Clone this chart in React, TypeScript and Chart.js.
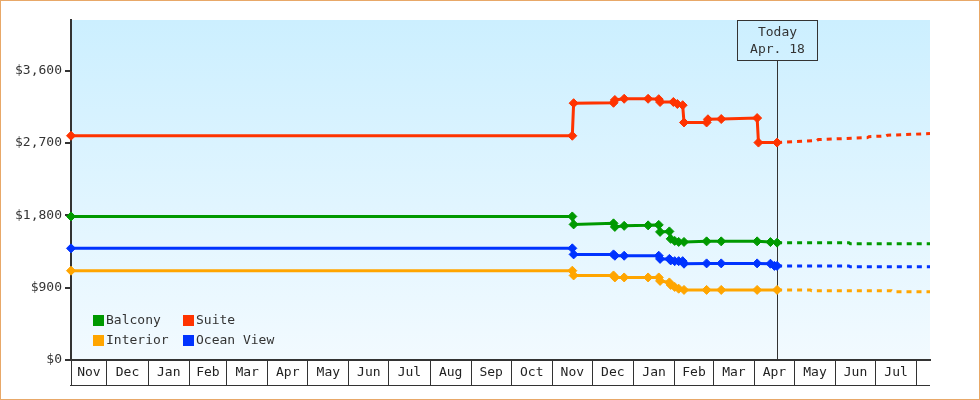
import React, { useEffect, useRef } from "react";
import { Chart, registerables } from "chart.js";

Chart.register(...registerables);

const FONT = '"DejaVu Sans Mono", monospace';
const EPOCH = Date.UTC(2014, 10, 1);
const dayOf = (s: string) => {
  const [y, m, d] = s.split("-").map(Number);
  return (Date.UTC(y, m - 1, d) - EPOCH) / 86400000;
};

// ---- data ----
const monthTickLabels = ["Nov", "Dec", "Jan", "Feb", "Mar", "Apr", "May", "Jun", "Jul", "Aug", "Sep", "Oct", "Nov", "Dec", "Jan", "Feb", "Mar", "Apr", "May", "Jun", "Jul"];
const yTickValues = [0, 900, 1800, 2700, 3600];
const xStartDate = "2014-11-04";
const xEndDate = "2016-08-11";
const todayDate = "2016-04-18";
const todayLabel = ["Today", "Apr. 18"];

const suiteDates = ["2014-11-04", "2015-11-16", "2015-11-17", "2015-12-17", "2015-12-18", "2015-12-25", "2016-01-12", "2016-01-20", "2016-01-21", "2016-01-31", "2016-02-03", "2016-02-07", "2016-02-08", "2016-02-25", "2016-02-26", "2016-03-07", "2016-04-03", "2016-04-04", "2016-04-18"];
const suitePrices = [2790, 2790, 3195, 3200, 3235, 3250, 3250, 3245, 3210, 3210, 3185, 3170, 2955, 2955, 2995, 2998, 3010, 2705, 2705];

const balconyDates = ["2014-11-04", "2015-11-16", "2015-11-17", "2015-12-17", "2015-12-18", "2015-12-25", "2016-01-12", "2016-01-20", "2016-01-21", "2016-01-28", "2016-01-29", "2016-02-01", "2016-02-04", "2016-02-08", "2016-02-25", "2016-03-07", "2016-04-03", "2016-04-13", "2016-04-18"];
const balconyPrices = [1786, 1786, 1687, 1700, 1656, 1669, 1675, 1681, 1594, 1600, 1507, 1482, 1469, 1469, 1476, 1476, 1476, 1467, 1460];

const oceanDates = ["2014-11-04", "2015-11-16", "2015-11-17", "2015-12-17", "2015-12-18", "2015-12-25", "2016-01-20", "2016-01-21", "2016-01-28", "2016-01-29", "2016-02-01", "2016-02-04", "2016-02-07", "2016-02-08", "2016-02-25", "2016-03-07", "2016-04-03", "2016-04-13", "2016-04-16", "2016-04-18"];
const oceanPrices = [1389, 1389, 1314, 1314, 1297, 1297, 1297, 1258, 1258, 1239, 1230, 1230, 1230, 1198, 1202, 1202, 1202, 1198, 1171, 1171];

const interiorDates = ["2014-11-04", "2015-11-16", "2015-11-17", "2015-12-17", "2015-12-18", "2015-12-25", "2016-01-12", "2016-01-20", "2016-01-21", "2016-01-28", "2016-01-29", "2016-02-01", "2016-02-04", "2016-02-08", "2016-02-25", "2016-03-07", "2016-04-03", "2016-04-18"];
const interiorPrices = [1111, 1111, 1052, 1052, 1027, 1027, 1027, 1027, 984, 965, 934, 909, 887, 872, 872, 872, 872, 872];

const suiteProjDates = ["2016-04-18", "2016-05-18", "2016-05-19", "2016-06-25", "2016-06-26", "2016-07-09", "2016-07-10", "2016-08-11"];
const suiteProjPrices = [2705, 2730, 2742, 2767, 2779, 2787, 2796, 2817];
const balconyProjDates = ["2016-04-18", "2016-06-11", "2016-06-12", "2016-08-11"];
const balconyProjPrices = [1460, 1460, 1447, 1447];
const oceanProjDates = ["2016-04-18", "2016-06-11", "2016-06-12", "2016-08-11"];
const oceanProjPrices = [1171, 1171, 1161, 1161];
const interiorProjDates = ["2016-04-18", "2016-05-13", "2016-05-14", "2016-07-13", "2016-07-14", "2016-08-11"];
const interiorProjPrices = [872, 872, 862, 862, 849, 849];

const legendItems = [
  { label: "Balcony", color: "#009900" },
  { label: "Suite", color: "#ff3300" },
  { label: "Interior", color: "#ffa500" },
  { label: "Ocean View", color: "#0033ff" },
];

const COLORS = { suite: "#ff3300", balcony: "#009900", ocean: "#0033ff", interior: "#ffa500" };

const toPts = (dates: string[], vals: number[]) => dates.map((d, i) => ({ x: dayOf(d), y: vals[i] }));
const fmtMoney = (v: number) => "$" + String(v).replace(/\B(?=(\d{3})+(?!\d))/g, ",");

const solid = (pts: any[], color: string) => ({
  data: pts,
  borderColor: color,
  backgroundColor: color,
  borderWidth: 3,
  pointStyle: "rectRot",
  pointRadius: 4.5,
  pointHoverRadius: 4.5,
  pointBorderWidth: 1,
  pointBorderColor: color,
  tension: 0,
  fill: false,
  clip: false,
});
const dashed = (pts: any[], color: string) => ({
  data: pts,
  borderColor: color,
  backgroundColor: color,
  borderWidth: 3,
  borderDash: [5, 5],
  pointRadius: 0,
  pointHoverRadius: 0,
  tension: 0,
  fill: false,
});

// month boundaries: axis start, then the first of each following month
const monthBoundaries = [
  dayOf(xStartDate),
  ...Array.from({ length: monthTickLabels.length }, (_, i) => (Date.UTC(2014, 11 + i, 1) - EPOCH) / 86400000),
];

const decorPlugin = {
  id: "decor",
  beforeDraw(chart: any) {
    const { ctx, chartArea: a } = chart;
    ctx.save();
    const g = ctx.createLinearGradient(0, a.top, 0, a.bottom);
    g.addColorStop(0, "#ccefff");
    g.addColorStop(1, "#f2faff");
    ctx.fillStyle = g;
    ctx.fillRect(a.left, a.top, a.right - a.left, a.bottom - a.top);
    ctx.restore();
  },
  beforeDatasetsDraw(chart: any) {
    const { ctx, chartArea: a, scales } = chart;
    const tx = Math.round(scales.x.getPixelForValue(dayOf(todayDate))) + 0.5;
    ctx.save();
    ctx.strokeStyle = "#333";
    ctx.lineWidth = 1;
    ctx.beginPath();
    ctx.moveTo(tx, a.top + 40.5);
    ctx.lineTo(tx, a.bottom);
    ctx.stroke();
    ctx.restore();
  },
  afterDraw(chart: any) {
    const { ctx, chartArea: a, scales, width, height } = chart;
    const xs = scales.x;
    ctx.save();
    // month labels
    ctx.font = `13px ${FONT}`;
    ctx.fillStyle = "#222";
    ctx.textAlign = "center";
    ctx.textBaseline = "middle";
    for (let i = 0; i < monthTickLabels.length; i++) {
      const l = xs.getPixelForValue(monthBoundaries[i]);
      const r = xs.getPixelForValue(monthBoundaries[i + 1]);
      ctx.fillText(monthTickLabels[i], (l + r) / 2, a.bottom + 13);
    }
    // bottom line of month boxes
    ctx.strokeStyle = "#333";
    ctx.lineWidth = 1;
    ctx.beginPath();
    ctx.moveTo(a.left - 1, a.bottom + 25.5);
    ctx.lineTo(a.right, a.bottom + 25.5);
    ctx.stroke();

    // today box
    const tx = Math.round(xs.getPixelForValue(dayOf(todayDate))) + 0.5;
    ctx.strokeRect(tx - 40, a.top + 0.5, 80, 40);
    ctx.fillStyle = "#333";
    ctx.fillText(todayLabel[0], tx, a.top + 13);
    ctx.fillText(todayLabel[1], tx, a.top + 30);

    // legend
    ctx.textAlign = "left";
    const cols = [a.left + 22, a.left + 112];
    const rows = [a.top + 295, a.top + 315];
    legendItems.forEach((it, i) => {
      const cx = cols[i % 2];
      const cy = rows[Math.floor(i / 2)];
      ctx.fillStyle = it.color;
      ctx.fillRect(cx, cy, 11, 11);
      ctx.fillStyle = "#333";
      ctx.fillText(it.label, cx + 13, cy + 6);
    });

    // outer border
    ctx.strokeStyle = "#e8a868";
    ctx.lineWidth = 1;
    ctx.strokeRect(0.5, 0.5, width - 1, height - 1);
    ctx.restore();
  },
};

export default function App() {
  const ref = useRef<HTMLCanvasElement | null>(null);
  useEffect(() => {
    if (!ref.current) return;
    const chart = new Chart(ref.current, {
      type: "line",
      data: {
        datasets: [
          solid(toPts(suiteDates, suitePrices), COLORS.suite),
          solid(toPts(balconyDates, balconyPrices), COLORS.balcony),
          solid(toPts(oceanDates, oceanPrices), COLORS.ocean),
          solid(toPts(interiorDates, interiorPrices), COLORS.interior),
          dashed(toPts(suiteProjDates, suiteProjPrices), COLORS.suite),
          dashed(toPts(balconyProjDates, balconyProjPrices), COLORS.balcony),
          dashed(toPts(oceanProjDates, oceanProjPrices), COLORS.ocean),
          dashed(toPts(interiorProjDates, interiorProjPrices), COLORS.interior),
        ] as any,
      },
      options: {
        responsive: false,
        animation: false,
        devicePixelRatio: 1,
        events: [],
        layout: { padding: { left: 0, right: 50, top: 20, bottom: 15 } },
        plugins: { legend: { display: false }, tooltip: { enabled: false } },
        scales: {
          x: {
            type: "linear",
            min: dayOf(xStartDate),
            max: dayOf(xEndDate),
            afterBuildTicks: (s: any) => {
              s.ticks = monthBoundaries.map((v) => ({ value: v }));
            },
            afterFit: (s: any) => {
              s.height = 25;
            },
            ticks: { display: false },
            grid: { drawOnChartArea: false, drawTicks: true, tickLength: 25, color: "#333", lineWidth: 1 },
            border: { display: true, color: "#333", width: 2 },
          },
          y: {
            type: "linear",
            min: 0,
            max: 4230,
            afterBuildTicks: (s: any) => {
              s.ticks = yTickValues.map((v) => ({ value: v }));
            },
            afterFit: (s: any) => {
              s.width = 71;
            },
            ticks: {
              callback: (v: any) => fmtMoney(Number(v)),
              font: { family: FONT, size: 13 },
              color: "#333",
              padding: 3,
            },
            grid: { drawOnChartArea: false, drawTicks: true, tickLength: 6, color: "#333", lineWidth: 2 },
            border: { display: true, color: "#333", width: 2 },
          },
        },
      } as any,
      plugins: [decorPlugin],
    });
    return () => chart.destroy();
  }, []);
  return (
    <div style={{ position: "absolute", left: 0, top: 0, width: 980, height: 400 }}>
      <canvas ref={ref} width={980} height={400} style={{ display: "block" }} />
    </div>
  );
}
